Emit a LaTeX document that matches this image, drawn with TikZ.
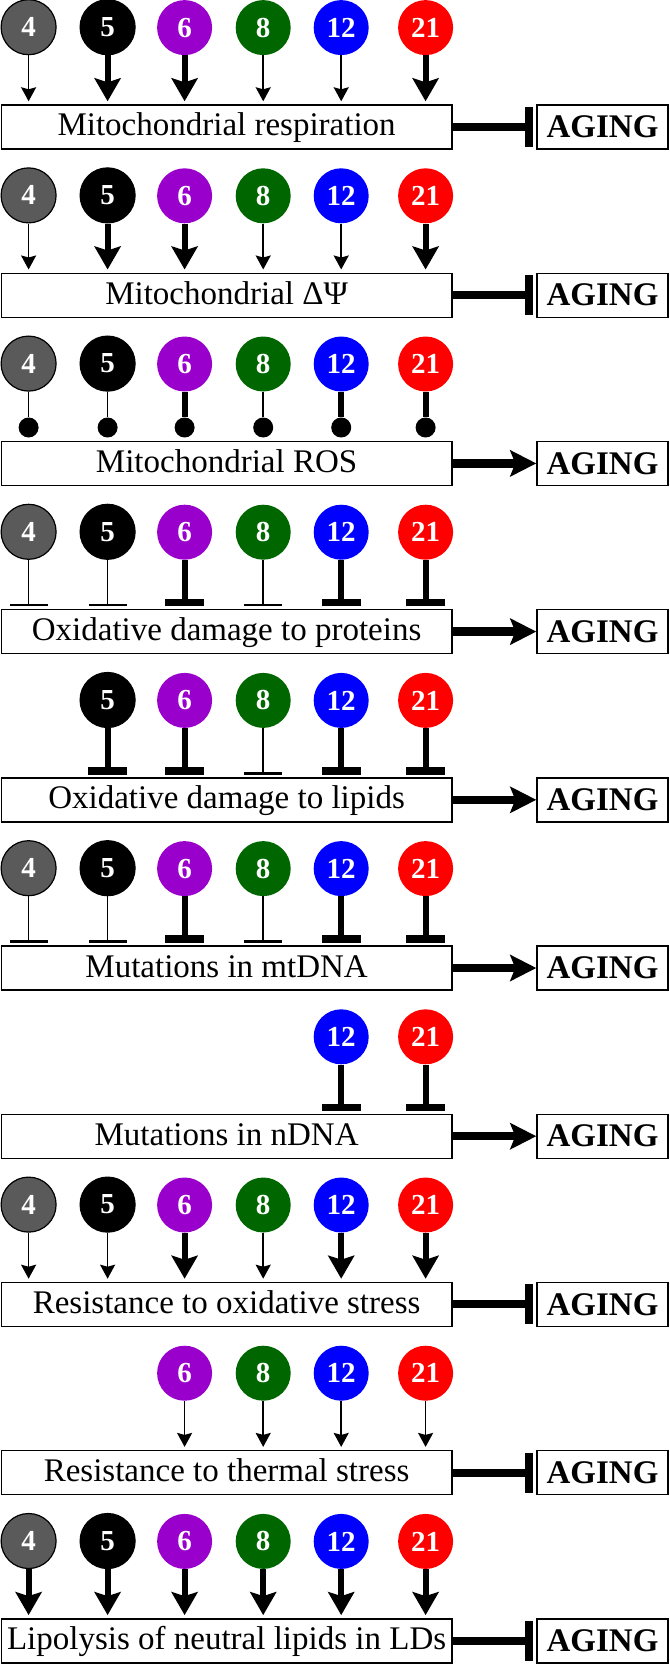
\documentclass[tikz,border=0pt]{standalone}
\usepackage{fontspec}
\setmainfont{Liberation Serif}
\usetikzlibrary{arrows.meta}

\definecolor{c4}{RGB}{90,90,90}
\definecolor{c6}{RGB}{153,0,204}
\definecolor{c8}{RGB}{0,102,0}
\definecolor{c12}{RGB}{0,0,255}
\definecolor{c21}{RGB}{255,0,0}

\tikzset{
  mutant/.style={circle,minimum size=55pt,inner sep=0pt,text=white,
    font=\bfseries\fontsize{29}{29}\selectfont},
  m4/.style={fill=c4,draw=black,line width=1.2pt},
  m5/.style={fill=black,draw=black,line width=1.2pt},
  m6/.style={fill=c6},
  m8/.style={fill=c8},
  m12/.style={fill=c12},
  m21/.style={fill=c21},
  process/.style={draw,line width=1.4pt,minimum width=450.7pt,minimum height=44pt,
    inner sep=0pt,text height=24pt,text depth=6pt,font=\fontsize{33}{33}\selectfont},
  aging/.style={draw,line width=1.4pt,minimum width=131pt,minimum height=44pt,
    inner sep=0pt,font=\bfseries\fontsize{33}{33}\selectfont},
  arrthin/.style={line width=1.7pt,-{Stealth[length=14pt,width=15pt,inset=2pt]},shorten >=3pt},
  arrthick/.style={line width=6pt,-{Stealth[length=23pt,width=26pt,inset=4pt]},shorten >=3pt},
  barthin/.style={line width=1.7pt,-{Bar[width=38pt,line width=2.6pt]},shorten >=2.5pt},
  barthick/.style={line width=6pt,-{Bar[width=39pt,line width=7.5pt]},shorten >=2.5pt},
  ballthin/.style={line width=1.7pt},
  ballthick/.style={line width=6pt},
  ball/.style={circle,fill=black,minimum size=20pt,inner sep=0pt},
  promotes/.style={line width=8.5pt,-{Stealth[length=26pt,width=26pt,inset=5pt]}},
  inhibits/.style={line width=8pt,-{Bar[width=40pt,line width=8pt]},shorten >=3pt},
}

\begin{document}
\begin{tikzpicture}[x=1pt,y=-1pt]
  \useasboundingbox (0,0) rectangle (669,1664);
  % Columns, one per mutant
  \coordinate (x4) at (28.6,0);
  \coordinate (x5) at (107.6,0);
  \coordinate (x6) at (184.6,0);
  \coordinate (x8) at (263.2,0);
  \coordinate (x12) at (341.2,0);
  \coordinate (x21) at (425.6,0);

  % Row 1: respiration
  \node[process] (p1) at (226.6,127) {Mitochondrial respiration};
  \node[aging] (a1) at (602.5,127) {AGING};
  \draw[inhibits] (p1) -- (a1);
  \foreach \m/\kind in {4/thin,5/thick,6/thick,8/thin,12/thin,21/thick}{
    \node[mutant,m\m,above=49pt] (m1-\m) at (x\m |- p1.north) {\m};
    \draw[arr\kind] (m1-\m) -- (m1-\m |- p1.north);
  }

  % Row 2: membrane potential
  \node[process] (p2) at (226.6,295.2) {Mitochondrial ΔΨ};
  \node[aging] (a2) at (602.5,295.2) {AGING};
  \draw[inhibits] (p2) -- (a2);
  \foreach \m/\kind in {4/thin,5/thick,6/thick,8/thin,12/thin,21/thick}{
    \node[mutant,m\m,above=49pt] (m2-\m) at (x\m |- p2.north) {\m};
    \draw[arr\kind] (m2-\m) -- (m2-\m |- p2.north);
  }

  % Row 3: ROS
  \node[process] (p3) at (226.6,463.4) {Mitochondrial ROS};
  \node[aging] (a3) at (602.5,463.4) {AGING};
  \draw[promotes] (p3) -- (a3);
  \foreach \m/\kind in {4/thin,5/thin,6/thick,8/thin,12/thick,21/thick}{
    \node[mutant,m\m,above=49pt] (m3-\m) at (x\m |- p3.north) {\m};
    \node[ball,above=3pt] (b3-\m) at (x\m |- p3.north) {};
    \draw[ball\kind] (m3-\m) -- (b3-\m);
  }

  % Row 4: proteins
  \node[process] (p4) at (226.6,631.6) {Oxidative damage to proteins};
  \node[aging] (a4) at (602.5,631.6) {AGING};
  \draw[promotes] (p4) -- (a4);
  \foreach \m/\kind in {4/thin,5/thin,6/thick,8/thin,12/thick,21/thick}{
    \node[mutant,m\m,above=49pt] (m4-\m) at (x\m |- p4.north) {\m};
    \draw[bar\kind] (m4-\m) -- (m4-\m |- p4.north);
  }

  % Row 5: lipids
  \node[process] (p5) at (226.6,799.8) {Oxidative damage to lipids};
  \node[aging] (a5) at (602.5,799.8) {AGING};
  \draw[promotes] (p5) -- (a5);
  \foreach \m/\kind in {5/thick,6/thick,8/thin,12/thick,21/thick}{
    \node[mutant,m\m,above=49pt] (m5-\m) at (x\m |- p5.north) {\m};
    \draw[bar\kind] (m5-\m) -- (m5-\m |- p5.north);
  }

  % Row 6: mtDNA
  \node[process] (p6) at (226.6,968) {Mutations in mtDNA};
  \node[aging] (a6) at (602.5,968) {AGING};
  \draw[promotes] (p6) -- (a6);
  \foreach \m/\kind in {4/thin,5/thin,6/thick,8/thin,12/thick,21/thick}{
    \node[mutant,m\m,above=49pt] (m6-\m) at (x\m |- p6.north) {\m};
    \draw[bar\kind] (m6-\m) -- (m6-\m |- p6.north);
  }

  % Row 7: nDNA
  \node[process] (p7) at (226.6,1136.2) {Mutations in nDNA};
  \node[aging] (a7) at (602.5,1136.2) {AGING};
  \draw[promotes] (p7) -- (a7);
  \foreach \m/\kind in {12/thick,21/thick}{
    \node[mutant,m\m,above=49pt] (m7-\m) at (x\m |- p7.north) {\m};
    \draw[bar\kind] (m7-\m) -- (m7-\m |- p7.north);
  }

  % Row 8: oxidative stress
  \node[process] (p8) at (226.6,1304.4) {Resistance to oxidative stress};
  \node[aging] (a8) at (602.5,1304.4) {AGING};
  \draw[inhibits] (p8) -- (a8);
  \foreach \m/\kind in {4/thin,5/thin,6/thick,8/thin,12/thick,21/thick}{
    \node[mutant,m\m,above=49pt] (m8-\m) at (x\m |- p8.north) {\m};
    \draw[arr\kind] (m8-\m) -- (m8-\m |- p8.north);
  }

  % Row 9: thermal stress
  \node[process] (p9) at (226.6,1472.6) {Resistance to thermal stress};
  \node[aging] (a9) at (602.5,1472.6) {AGING};
  \draw[inhibits] (p9) -- (a9);
  \foreach \m/\kind in {6/thin,8/thin,12/thin,21/thin}{
    \node[mutant,m\m,above=49pt] (m9-\m) at (x\m |- p9.north) {\m};
    \draw[arr\kind] (m9-\m) -- (m9-\m |- p9.north);
  }

  % Row 10: lipolysis
  \node[process] (p10) at (226.6,1640.8) {Lipolysis of neutral lipids in LDs};
  \node[aging] (a10) at (602.5,1640.8) {AGING};
  \draw[inhibits] (p10) -- (a10);
  \foreach \m/\kind in {4/thick,5/thick,6/thick,8/thick,12/thick,21/thick}{
    \node[mutant,m\m,above=49pt] (m10-\m) at (x\m |- p10.north) {\m};
    \draw[arr\kind] (m10-\m) -- (m10-\m |- p10.north);
  }
\end{tikzpicture}
\end{document}
